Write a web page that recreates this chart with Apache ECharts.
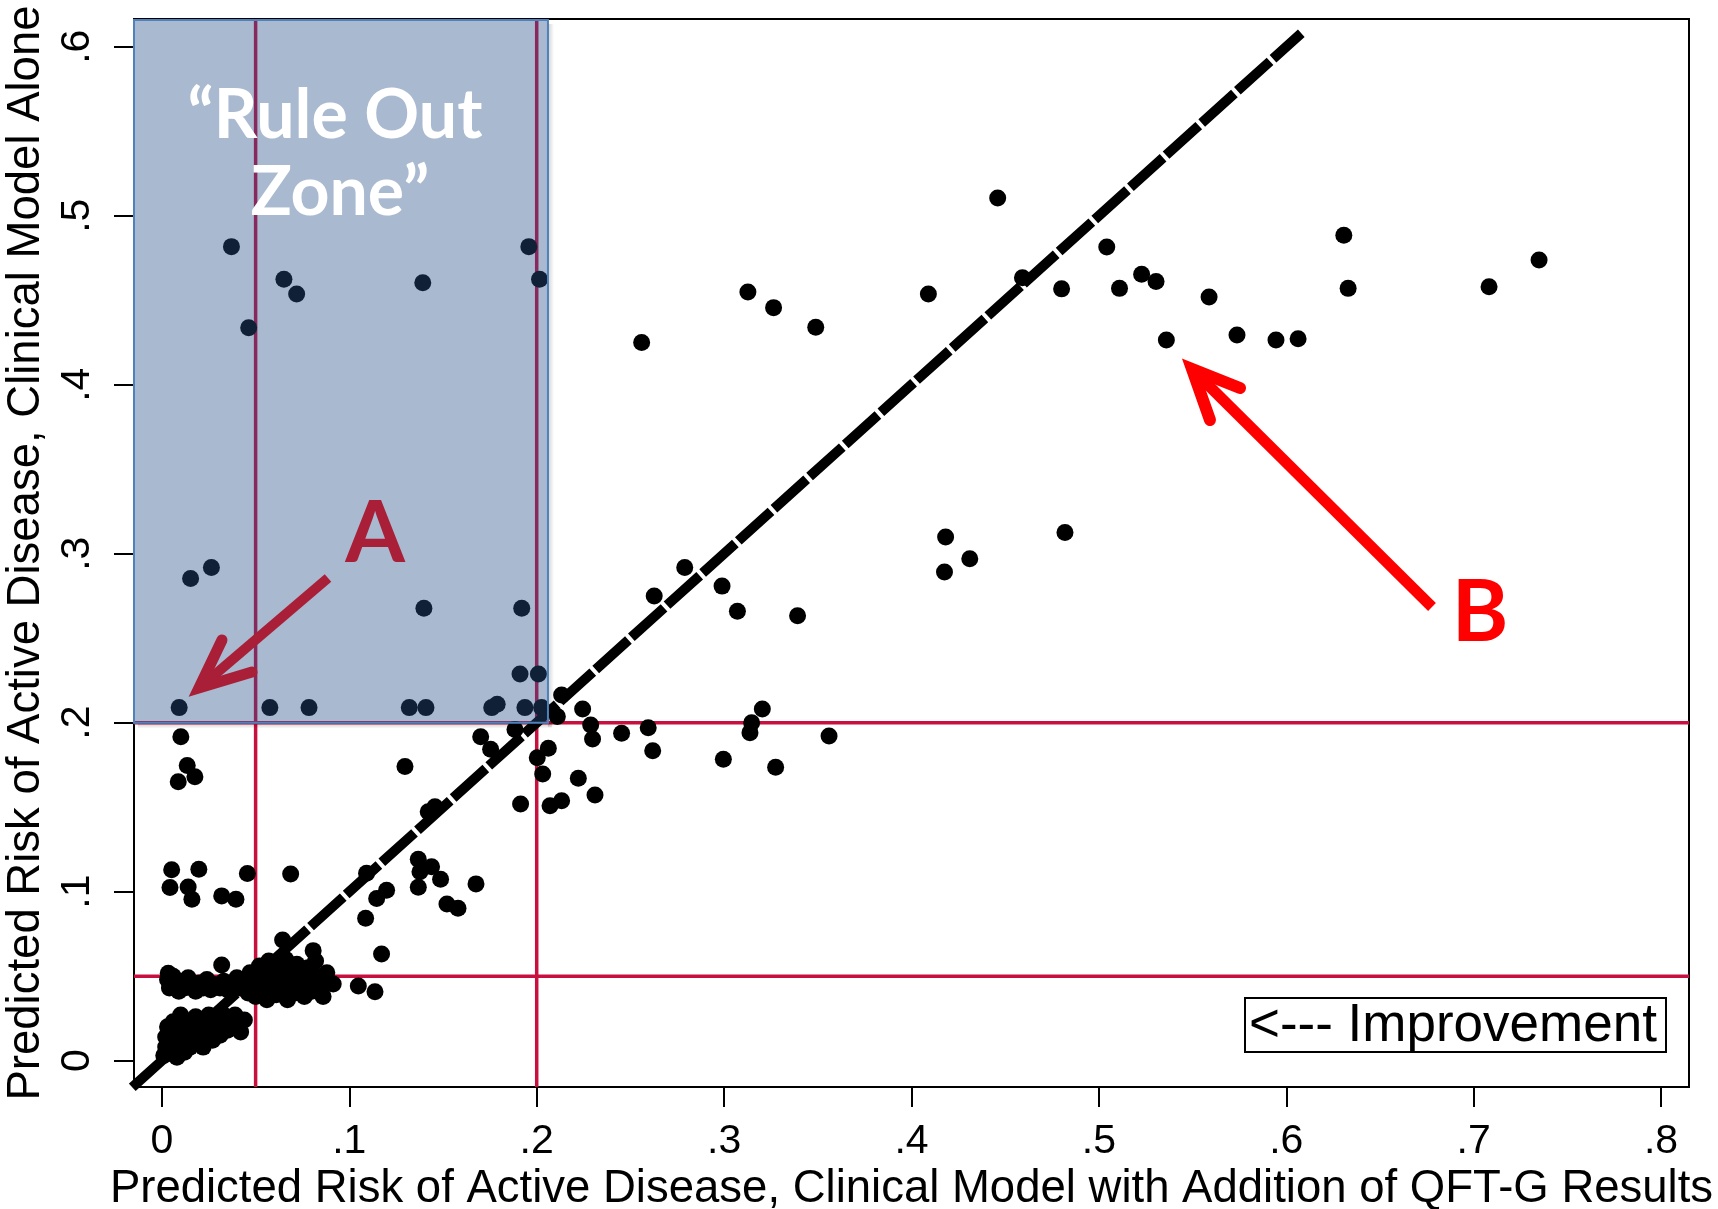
<!DOCTYPE html>
<html>
<head>
<meta charset="utf-8">
<script src="https://cdn.jsdelivr.net/npm/echarts@6.0.0/dist/echarts.min.js"></script>
<style>
  html, body { margin: 0; padding: 0; background: #fff; }
  #chart { width: 1718px; height: 1209px; }
</style>
</head>
<body>
<div id="chart"></div>
<script>
// [risk with QFT-G, risk clinical model alone]
const xTicks = [0, 0.1, 0.2, 0.3, 0.4, 0.5, 0.6, 0.7, 0.8];
const yTicks = [0, 0.1, 0.2, 0.3, 0.4, 0.5, 0.6];
const cutoffs = [0.05, 0.2];
const xRange = [-0.0149, 0.8149];
const yRange = [-0.0156, 0.6164];
const diagRange = [-0.0158, 0.608];
const zoneX = [-0.0149, 0.206];
const zoneY = [0.2, 0.6158];

const upperPoints = [
  [0.446, 0.5105], [0.256, 0.4249], [0.3127, 0.4549], [0.3264, 0.4456], [0.3489, 0.434],
  [0.409, 0.4537], [0.4592, 0.4633], [0.4801, 0.4567], [0.5042, 0.4815], [0.511, 0.457],
  [0.5228, 0.4653], [0.5305, 0.461], [0.536, 0.4265], [0.5588, 0.4519], [0.5737, 0.4294],
  [0.5945, 0.4265], [0.6063, 0.4272], [0.6307, 0.4884], [0.633, 0.457], [0.7082, 0.458],
  [0.7349, 0.4738]
];
const middlePoints = [
  [0.4182, 0.3099], [0.4176, 0.2892], [0.4311, 0.297], [0.4819, 0.3125],
  [0.279, 0.2918], [0.2627, 0.2749], [0.2989, 0.2808], [0.3071, 0.2659], [0.3392, 0.2633]
];
const zonePoints = [
  [0.0371, 0.4817], [0.0463, 0.4337], [0.0651, 0.4624], [0.0719, 0.4537], [0.1392, 0.4603],
  [0.1958, 0.4817], [0.2015, 0.4624],
  [0.0153, 0.2853], [0.0264, 0.2918], [0.1398, 0.2677], [0.192, 0.2677], [0.1911, 0.2288], [0.2009, 0.2288],
  [0.0092, 0.2089], [0.0576, 0.2089], [0.0785, 0.2089], [0.132, 0.2089], [0.1409, 0.2089],
  [0.176, 0.2089], [0.1789, 0.2109], [0.1937, 0.2089], [0.2026, 0.2089]
];
const lowerLeftPoints = [
  [0.0101, 0.1917], [0.0135, 0.1746], [0.0176, 0.168], [0.0087, 0.1651],
  [0.0052, 0.113], [0.0043, 0.1025], [0.014, 0.1028], [0.016, 0.0955], [0.0197, 0.1133],
  [0.0319, 0.0975], [0.0395, 0.0955], [0.0456, 0.1107], [0.0687, 0.1105]
];
const nearDiagPoints = [
  [0.1092, 0.1109], [0.1146, 0.096], [0.1199, 0.1008], [0.1087, 0.0843], [0.1172, 0.0631],
  [0.1297, 0.174], [0.1457, 0.1503], [0.1421, 0.1473], [0.1368, 0.1192], [0.1439, 0.1148],
  [0.1377, 0.1118], [0.1487, 0.1073], [0.1368, 0.1026], [0.1676, 0.1046], [0.1521, 0.0927],
  [0.158, 0.0902],
  [0.1701, 0.1917], [0.1754, 0.1843], [0.1884, 0.1959], [0.2133, 0.2164], [0.211, 0.2036],
  [0.2245, 0.2081], [0.2288, 0.1986], [0.2298, 0.1904], [0.2453, 0.1937], [0.2595, 0.197],
  [0.2619, 0.1834], [0.3204, 0.2081], [0.3147, 0.2], [0.3138, 0.1941], [0.356, 0.1921],
  [0.2996, 0.1783], [0.3275, 0.1736], [0.2062, 0.1849], [0.2003, 0.1793], [0.2032, 0.1696],
  [0.2222, 0.1671], [0.2311, 0.1572], [0.1914, 0.1519], [0.2071, 0.1509], [0.2133, 0.1538]
];
const bandPoints = [
  [0.003, 0.048], [0.004, 0.043], [0.006, 0.05], [0.007, 0.045], [0.009, 0.041], [0.011, 0.047],
  [0.012, 0.043], [0.014, 0.049], [0.016, 0.044], [0.018, 0.041], [0.02, 0.046], [0.022, 0.043],
  [0.024, 0.048], [0.026, 0.042], [0.028, 0.045], [0.031, 0.043], [0.033, 0.047], [0.035, 0.042],
  [0.038, 0.045], [0.04, 0.049], [0.042, 0.043], [0.044, 0.046],
  [0.046, 0.04], [0.047, 0.052], [0.049, 0.045], [0.05, 0.038], [0.052, 0.056], [0.053, 0.048],
  [0.055, 0.042], [0.056, 0.036], [0.057, 0.059], [0.058, 0.051], [0.06, 0.045], [0.061, 0.039],
  [0.062, 0.055], [0.064, 0.048], [0.065, 0.042], [0.066, 0.06], [0.067, 0.036], [0.068, 0.053],
  [0.07, 0.046], [0.071, 0.04], [0.072, 0.057], [0.074, 0.05], [0.075, 0.044], [0.076, 0.038],
  [0.078, 0.055], [0.079, 0.047], [0.08, 0.041], [0.082, 0.059], [0.083, 0.05], [0.085, 0.044],
  [0.086, 0.038], [0.088, 0.052], [0.089, 0.046],
  [0.0034, 0.0517], [0.0319, 0.0566], [0.0644, 0.0714], [0.0807, 0.0651], [0.0914, 0.0454],
  [0.1048, 0.0442], [0.1137, 0.0408]
];
const originPoints = [
  [0.001, 0.003], [0.002, 0.008], [0.002, 0.014], [0.003, 0.02], [0.004, 0.005], [0.005, 0.011],
  [0.006, 0.017], [0.006, 0.023], [0.008, 0.002], [0.008, 0.008], [0.009, 0.014], [0.01, 0.02],
  [0.01, 0.027], [0.012, 0.005], [0.012, 0.011], [0.013, 0.017], [0.014, 0.023], [0.015, 0.008],
  [0.016, 0.014], [0.017, 0.02], [0.018, 0.026], [0.019, 0.011], [0.02, 0.017], [0.021, 0.023],
  [0.022, 0.008], [0.023, 0.014], [0.024, 0.02], [0.025, 0.027], [0.027, 0.012], [0.028, 0.018],
  [0.029, 0.024], [0.031, 0.015], [0.032, 0.021], [0.033, 0.027], [0.035, 0.018], [0.036, 0.024],
  [0.038, 0.02], [0.039, 0.027], [0.041, 0.022], [0.042, 0.017], [0.044, 0.024]
];

const allPoints = [].concat(upperPoints, middlePoints, zonePoints, lowerLeftPoints,
  nearDiagPoints, bandPoints, originPoints);

const fontMain = '"Liberation Sans", Arial, sans-serif';
const cutRed = '#c8103e';
const tickFmt = v => String(Math.round(v * 10) / 10).replace(/^0(?=\.)/, '');

const chart = echarts.init(document.getElementById('chart'));

const cutoffSeries = [];
cutoffSeries.push(...cutoffs.map(c => ({
  type: 'line', z: 1, silent: true, symbol: 'none', animation: false,
  lineStyle: { color: cutRed, width: 3.5 },
  data: [[c, yRange[0]], [c, yRange[1]]]
})));
cutoffSeries.push(...cutoffs.map(c => ({
  type: 'line', z: 1, silent: true, symbol: 'none', animation: false,
  lineStyle: { color: cutRed, width: 3.5 },
  data: [[xRange[0], c], [xRange[1], c]]
})));

const option = {
  animation: false,
  backgroundColor: '#fff',
  grid: {
    left: 134, top: 19, right: 29, bottom: 122,
    show: true, borderColor: '#000', borderWidth: 2,
    outerBoundsMode: 'none'
  },
  xAxis: {
    type: 'value', min: xRange[0], max: xRange[1],
    splitLine: { show: false },
    axisLine: { onZero: false, lineStyle: { color: '#000', width: 2 } },
    axisTick: { customValues: xTicks, length: 20, lineStyle: { color: '#000', width: 2 } },
    axisLabel: { customValues: xTicks, formatter: tickFmt, fontSize: 41, fontFamily: fontMain, color: '#000', margin: 34 },
    name: 'Predicted Risk of Active Disease, Clinical Model with Addition of QFT-G Results',
    nameLocation: 'middle', nameGap: 77,
    nameTextStyle: { fontSize: 45.5, fontFamily: fontMain, color: '#000' }
  },
  yAxis: {
    type: 'value', min: yRange[0], max: yRange[1],
    splitLine: { show: false },
    axisLine: { onZero: false, lineStyle: { color: '#000', width: 2 } },
    axisTick: { customValues: yTicks, length: 20, lineStyle: { color: '#000', width: 2 } },
    axisLabel: { customValues: yTicks, formatter: tickFmt, rotate: 90, fontSize: 41, fontFamily: fontMain, color: '#000', margin: 36 },
    name: 'Predicted Risk of Active Disease, Clinical Model Alone',
    nameLocation: 'middle', nameGap: 80,
    nameTextStyle: { fontSize: 45.5, fontFamily: fontMain, color: '#000' }
  },
  series: [
    ...cutoffSeries,
    {
      name: 'patients', type: 'scatter', z: 3, silent: true,
      symbol: 'circle', symbolSize: 17,
      itemStyle: { color: '#000', opacity: 1 },
      data: allPoints
    },
    {
      name: 'equality', type: 'line', z: 4, silent: true, symbol: 'none', clip: false,
      lineStyle: { color: '#000', width: 10, type: [44, 4], cap: 'butt' },
      data: [[diagRange[0], diagRange[0]], [diagRange[1], diagRange[1]]]
    },
    {
      name: 'rule out zone', type: 'custom', z: 10, silent: true, clip: false,
      encode: { x: [0, 2], y: [1, 3] },
      data: [[zoneX[0], zoneY[0], zoneX[1], zoneY[1]]],
      renderItem: (params, api) => {
        const p0 = api.coord([api.value(0), api.value(3)]);
        const p1 = api.coord([api.value(2), api.value(1)]);
        const w = p1[0] - p0[0], h = p1[1] - p0[1];
        return {
          type: 'group',
          children: [
            { type: 'rect', shape: { x: p0[0] + 4, y: p1[1], width: w, height: 6 },
              style: { fill: new echarts.graphic.LinearGradient(0, 0, 0, 1, [
                { offset: 0, color: 'rgba(0,0,0,0.22)' }, { offset: 1, color: 'rgba(0,0,0,0)' }]) } },
            { type: 'rect', shape: { x: p1[0], y: p0[1] + 4, width: 6, height: h },
              style: { fill: new echarts.graphic.LinearGradient(0, 0, 1, 0, [
                { offset: 0, color: 'rgba(0,0,0,0.18)' }, { offset: 1, color: 'rgba(0,0,0,0)' }]) } },
            { type: 'rect', shape: { x: p0[0], y: p0[1], width: w, height: h },
              style: { fill: 'rgba(37,80,137,0.4)', stroke: '#4f81bd', lineWidth: 2 } }
          ]
        };
      }
    }
  ],
  graphic: [
    { type: 'text', z: 100, style: { text: '\u201CRule Out', x: 335, y: 116, align: 'center', verticalAlign: 'middle', font: 'bold 68px Lato, "Open Sans", sans-serif', fill: '#fff' } },
    { type: 'text', z: 100, style: { text: 'Zone\u201D', x: 340, y: 193, align: 'center', verticalAlign: 'middle', font: 'bold 68px Lato, "Open Sans", sans-serif', fill: '#fff' } },
    { type: 'text', z: 100, style: { text: 'A', x: 375, y: 534, align: 'center', verticalAlign: 'middle', font: 'bold 86px Lato, "Open Sans", sans-serif', fill: '#a91f38' } },
    { type: 'text', z: 100, style: { text: 'B', x: 1480, y: 613, align: 'center', verticalAlign: 'middle', font: 'bold 86px Lato, "Open Sans", sans-serif', fill: '#ff0000' } },
    { type: 'line', z: 100, shape: { x1: 328, y1: 578, x2: 205, y2: 683 }, style: { stroke: '#a91f38', lineWidth: 10 } },
    { type: 'polyline', z: 100, shape: { points: [[222, 640], [199, 688], [252, 672]] }, style: { stroke: '#a91f38', lineWidth: 11, lineCap: 'round', lineJoin: 'miter', fill: null } },
    { type: 'line', z: 100, shape: { x1: 1432, y1: 607, x2: 1197, y2: 374 }, style: { stroke: '#ff0000', lineWidth: 11 } },
    { type: 'polyline', z: 100, shape: { points: [[1240, 388], [1192, 369], [1210, 420]] }, style: { stroke: '#ff0000', lineWidth: 12, lineCap: 'round', lineJoin: 'miter', fill: null } },
    { type: 'rect', z: 100, shape: { x: 1245, y: 998, width: 421, height: 54 }, style: { fill: '#fff', stroke: '#000', lineWidth: 2 } },
    { type: 'text', z: 101, style: { text: '<--- Improvement', x: 1249, y: 1026, align: 'left', verticalAlign: 'middle', font: '53px "Liberation Sans", Arial, sans-serif', fill: '#000' } }
  ]
};

chart.setOption(option);
window.addEventListener('resize', () => chart.resize());
</script>
</body>
</html>
